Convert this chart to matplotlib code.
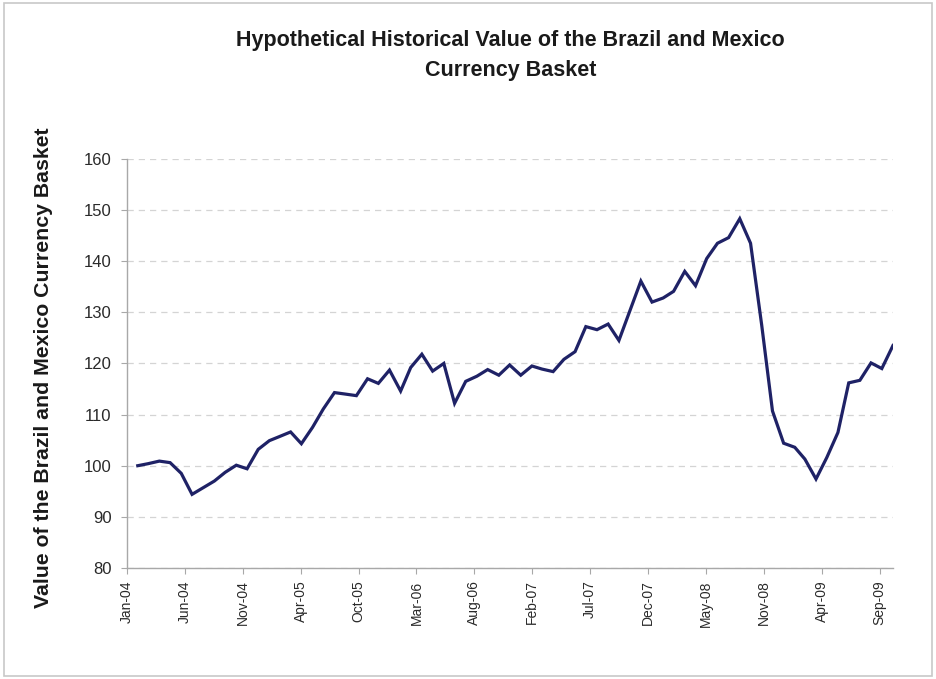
import matplotlib
matplotlib.use("Agg")
import matplotlib.pyplot as plt
import matplotlib.dates as mdates
from matplotlib.patches import Rectangle
import pandas as pd
import numpy as np

# Month-end observation dates, Jan-2004 .. Oct-2009
start_month = "2004-01-31"
n_months = 70
values = [
    100.0, 100.4, 100.9, 100.6, 98.5, 94.4, 95.7, 97.0, 98.7, 100.1,
    99.4, 103.2, 104.9, 105.7, 106.6, 104.3, 107.5, 111.1, 114.3, 114.0,
    113.7, 117.0, 116.1, 118.7, 114.6, 119.2, 121.8, 118.5, 120.0, 112.2,
    116.5, 117.5, 118.8, 117.7, 119.7, 117.7, 119.5, 118.9, 118.4, 120.8,
    122.3, 127.2, 126.6, 127.7, 124.5, 130.4, 136.1, 132.0, 132.8, 134.1,
    138.0, 135.2, 140.5, 143.5, 144.6, 148.3, 143.5, 127.5, 110.7, 104.4,
    103.6, 101.3, 97.4, 101.6, 106.5, 116.2, 116.7, 120.1, 119.0, 123.5,
]
y_ticks = [80, 90, 100, 110, 120, 130, 140, 150, 160]
tick_start = "2004-01-01"
tick_step_days = 161
n_ticks = 14

title = "Hypothetical Historical Value of the Brazil and Mexico\nCurrency Basket"
y_label = "Value of the Brazil and Mexico Currency Basket"

dates = pd.date_range(start_month, periods=n_months, freq="ME")
tick_dates = [pd.Timestamp(tick_start) + pd.Timedelta(days=tick_step_days * k) for k in range(n_ticks)]

plt.rcParams["font.family"] = ["Liberation Sans", "DejaVu Sans"]

fig = plt.figure(figsize=(9.37, 6.79), dpi=100)
fig.patches.append(Rectangle((0.004, 0.005), 0.991, 0.99, transform=fig.transFigure,
                             fill=False, edgecolor="#c8c8c8", linewidth=1.2))

ax = fig.add_axes([0.1355, 0.1635, 0.8175, 0.6025])
ax.plot(dates, values, color="#1f2266", linewidth=2.3, solid_joinstyle="miter")

ax.set_ylim(80, 160)
ax.set_yticks(y_ticks)
ax.set_xlim(pd.Timestamp("2004-01-01"), pd.Timestamp("2009-10-31"))
ax.set_xticks(tick_dates)
ax.xaxis.set_major_formatter(mdates.DateFormatter("%b-%y"))

ax.grid(axis="y", color="#d4d4d4", linestyle=(0, (5, 4)), linewidth=0.9)
ax.set_axisbelow(True)

for s in ["top", "right"]:
    ax.spines[s].set_visible(False)
for s in ["left", "bottom"]:
    ax.spines[s].set_color("#a8a8a8")
    ax.spines[s].set_linewidth(1.0)

ax.tick_params(axis="x", labelrotation=90, labelsize=10, length=4, color="#a8a8a8", pad=5, labelcolor="#2a2a2a")
ax.tick_params(axis="y", labelsize=12, length=4.5, color="#a8a8a8", pad=6.5, labelcolor="#2a2a2a")

fig.text(0.545, 0.956, title, ha="center", va="top", fontsize=15.5, fontweight="bold", color="#1a1a1a",
         linespacing=1.6)
fig.text(0.046, 0.459, y_label, rotation=90, ha="center", va="center", fontsize=15.3,
         fontweight="bold", color="#1a1a1a")

fig.savefig("out.png", dpi=100)
